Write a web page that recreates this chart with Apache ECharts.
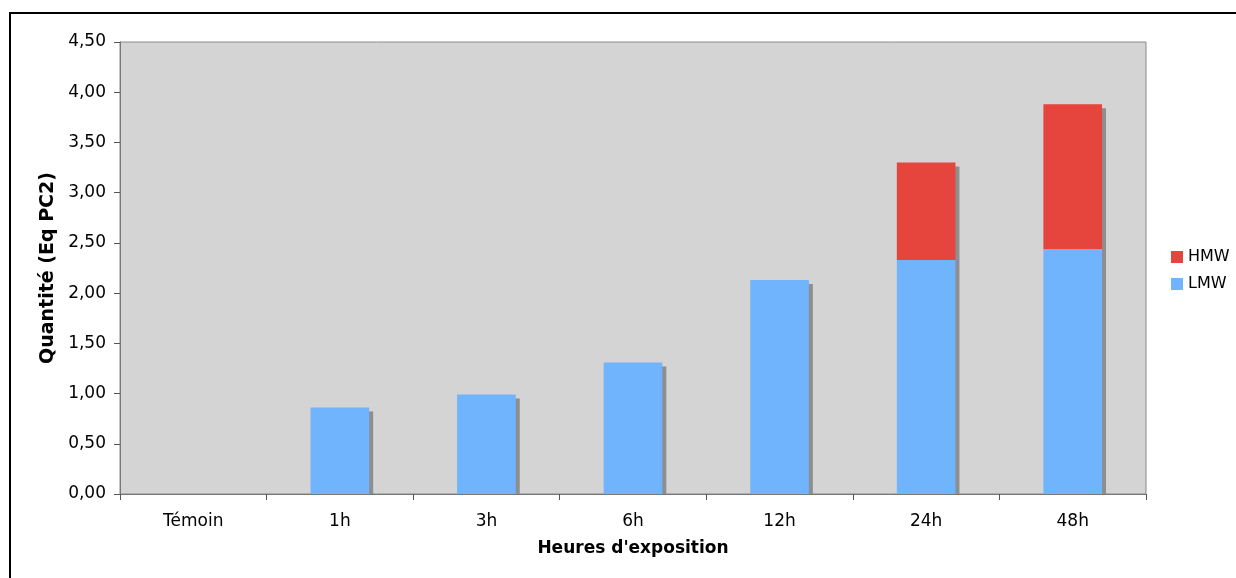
<!DOCTYPE html>
<html>
<head>
<meta charset="utf-8">
<script src="https://cdn.jsdelivr.net/npm/echarts@6/dist/echarts.min.js"></script>
<style>
html,body{margin:0;padding:0;background:#fff;}
#chart{width:1236px;height:578px;}
</style>
</head>
<body>
<div id="chart"></div>
<script>
const categories = ['Témoin', '1h', '3h', '6h', '12h', '24h', '48h'];
const lmw = [0, 0.86, 0.99, 1.31, 2.13, 2.33, 2.44];
const hmw = [0, 0, 0, 0, 0, 0.97, 1.44];
const yMin = 0, yMax = 4.5, yStep = 0.5;

const FONT = 'DejaVu Sans';
const chart = echarts.init(document.getElementById('chart'), null, {renderer: 'canvas'});
const fmt = v => v.toFixed(2).replace('.', ',');
const shadow = {shadowColor: '#8e8e8e', shadowBlur: 0, shadowOffsetX: 4, shadowOffsetY: 4};

chart.setOption({
  animation: false,
  backgroundColor: '#ffffff',
  graphic: [
    {type: 'rect', z: 100, silent: true,
     shape: {x: 10, y: 13, width: 1300, height: 700},
     style: {fill: 'none', stroke: '#000', lineWidth: 2}},
    {type: 'rect', z: 5, silent: true,
     shape: {x: 118, y: 495, width: 1040, height: 6},
     style: {fill: '#ffffff'}}
  ],
  grid: {left: 120, top: 42, right: 90, bottom: 84, show: true,
    backgroundColor: '#d4d4d4', borderColor: '#8a8a8a', borderWidth: 1},
  legend: {
    orient: 'vertical', left: 1166, top: 244,
    itemWidth: 12, itemHeight: 12, itemGap: 11,
    icon: 'rect',
    textStyle: {fontFamily: FONT, fontSize: 16, color: '#000'},
    data: ['HMW', 'LMW']
  },
  xAxis: {
    type: 'category', data: categories, z: 10,
    name: "Heures d'exposition", nameLocation: 'middle', nameGap: 46,
    nameTextStyle: {fontFamily: FONT, fontSize: 17, fontWeight: 'bold', color: '#000'},
    axisLine: {lineStyle: {color: '#777', width: 1}},
    axisTick: {show: true, length: 6, lineStyle: {color: '#555'}},
    axisLabel: {fontFamily: FONT, fontSize: 17, color: '#000', margin: 19},
    splitLine: {show: false}
  },
  yAxis: {
    type: 'value', min: yMin, max: yMax, interval: yStep, z: 10,
    name: 'Quantité (Eq PC2)', nameLocation: 'middle', nameGap: 60,
    nameTextStyle: {fontFamily: FONT, fontSize: 19, fontWeight: 'bold', color: '#000'},
    axisLine: {show: true, lineStyle: {color: '#777'}},
    axisTick: {show: true, length: 6, lineStyle: {color: '#555'}},
    axisLabel: {fontFamily: FONT, fontSize: 17, color: '#000', margin: 14, formatter: fmt},
    splitLine: {show: false}
  },
  series: [
    {name: 'LMW', type: 'bar', stack: 'q', data: lmw, barWidth: '40%', z: 3,
     itemStyle: Object.assign({color: '#70b4fd'}, shadow)},
    {name: 'HMW', type: 'bar', stack: 'q', data: hmw, barWidth: '40%', z: 2,
     itemStyle: Object.assign({color: '#e5453c'}, shadow)}
  ]
});
</script>
</body>
</html>
